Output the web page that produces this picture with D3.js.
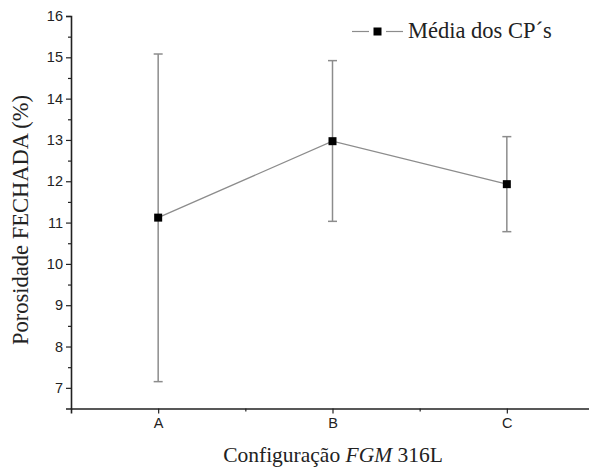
<!DOCTYPE html>
<html>
<head>
<meta charset="utf-8">
<script src="https://cdn.jsdelivr.net/npm/d3@7"></script>
<style>
  html, body { margin: 0; padding: 0; background: #fff; }
  svg { display: block; }
</style>
</head>
<body>
<svg id="chart" width="589" height="468"></svg>
<script>
// Closed porosity per FGM 316L configuration: mean with error bars
const categories = ["A", "B", "C"];
const means = [11.12, 12.97, 11.93];
const upper = [15.08, 14.92, 13.08];
const lower = [7.15, 11.03, 10.78];
const yTicks = [7, 8, 9, 10, 11, 12, 13, 14, 15, 16];
const legendLabel = "Média dos CP´s";

const svg = d3.select("#chart");
const plotLeft = 71, plotTop = 16, plotBottom = 408.5, plotRight = 594;
const serif = "Liberation Serif, Times New Roman, serif";

const x = d3.scaleLinear().domain([0.5, 3.5]).range([plotLeft, plotRight]);
const y = d3.scaleLinear().domain([6.5, 16]).range([plotBottom, plotTop]);

const data = categories.map((c, i) => ({ c, i: i + 1, m: means[i], hi: upper[i], lo: lower[i] }));

// Y axis: major ticks on integers, minor ticks at halves
svg.append("g").attr("transform", `translate(${plotLeft},0)`)
  .call(d3.axisLeft(y).tickValues(yTicks).tickSize(5).tickPadding(3).tickFormat(d3.format("d")));
svg.append("g").attr("transform", `translate(${plotLeft},0)`)
  .call(d3.axisLeft(y).tickValues(d3.range(7.5, 16, 1)).tickSize(3).tickFormat(""))
  .call(g => g.select(".domain").remove());

// X axis: categories with minor ticks between them
svg.append("g").attr("transform", `translate(0,${plotBottom})`)
  .call(d3.axisBottom(x).tickValues([1, 2, 3]).tickSize(5).tickPadding(4)
    .tickFormat(d => categories[d - 1]));
svg.append("g").attr("transform", `translate(0,${plotBottom})`)
  .call(d3.axisBottom(x).tickValues([1.5, 2.5]).tickSize(3).tickFormat(""))
  .call(g => g.select(".domain").remove());

svg.selectAll(".domain").attr("stroke", "#222").attr("stroke-width", 1.6);
svg.selectAll(".tick line").attr("stroke", "#222").attr("stroke-width", 1.2);
svg.selectAll(".tick text")
  .attr("font-family", "Liberation Sans, Arial, sans-serif")
  .attr("font-size", 14.5).attr("fill", "#222");

// Error bars
const eb = svg.append("g").attr("stroke", "#8c8c8c").attr("stroke-width", 1.5);
eb.selectAll("line.v").data(data).join("line").attr("class", "v")
  .attr("x1", d => x(d.i)).attr("x2", d => x(d.i))
  .attr("y1", d => y(d.hi)).attr("y2", d => y(d.lo));
eb.selectAll("line.t").data(data).join("line").attr("class", "t")
  .attr("x1", d => x(d.i) - 4.5).attr("x2", d => x(d.i) + 4.5)
  .attr("y1", d => y(d.hi)).attr("y2", d => y(d.hi));
eb.selectAll("line.b").data(data).join("line").attr("class", "b")
  .attr("x1", d => x(d.i) - 4.5).attr("x2", d => x(d.i) + 4.5)
  .attr("y1", d => y(d.lo)).attr("y2", d => y(d.lo));

// Connecting line
svg.append("path").datum(data)
  .attr("fill", "none").attr("stroke", "#8c8c8c").attr("stroke-width", 1.2)
  .attr("d", d3.line().x(d => x(d.i)).y(d => y(d.m)));

// Markers
const ms = 8;
svg.selectAll("rect.m").data(data).join("rect").attr("class", "m")
  .attr("x", d => x(d.i) - ms / 2).attr("y", d => y(d.m) - ms / 2)
  .attr("width", ms).attr("height", ms).attr("fill", "#000");

// Legend
const lg = svg.append("g");
lg.append("line").attr("x1", 352).attr("x2", 369).attr("y1", 31.5).attr("y2", 31.5)
  .attr("stroke", "#8c8c8c").attr("stroke-width", 1.2);
lg.append("line").attr("x1", 386).attr("x2", 403).attr("y1", 31.5).attr("y2", 31.5)
  .attr("stroke", "#8c8c8c").attr("stroke-width", 1.2);
lg.append("rect").attr("x", 377.5 - 4).attr("y", 31.5 - 4).attr("width", 8).attr("height", 8).attr("fill", "#000");
lg.append("text").attr("x", 408).attr("y", 38)
  .attr("font-family", serif).attr("font-size", 22.5)
  .attr("fill", "#222").text(legendLabel);

// Axis titles
svg.append("text")
  .attr("transform", "translate(27.5,220) rotate(-90)")
  .attr("text-anchor", "middle")
  .attr("font-family", serif).attr("font-size", 22.5)
  .attr("fill", "#222").text("Porosidade FECHADA (%)");

const xt = svg.append("text")
  .attr("x", 333).attr("y", 462).attr("text-anchor", "middle")
  .attr("font-family", serif).attr("font-size", 21.5)
  .attr("fill", "#222");
xt.append("tspan").text("Configuração ");
xt.append("tspan").attr("font-style", "italic").text("FGM");
xt.append("tspan").text(" 316L");
</script>
</body>
</html>
